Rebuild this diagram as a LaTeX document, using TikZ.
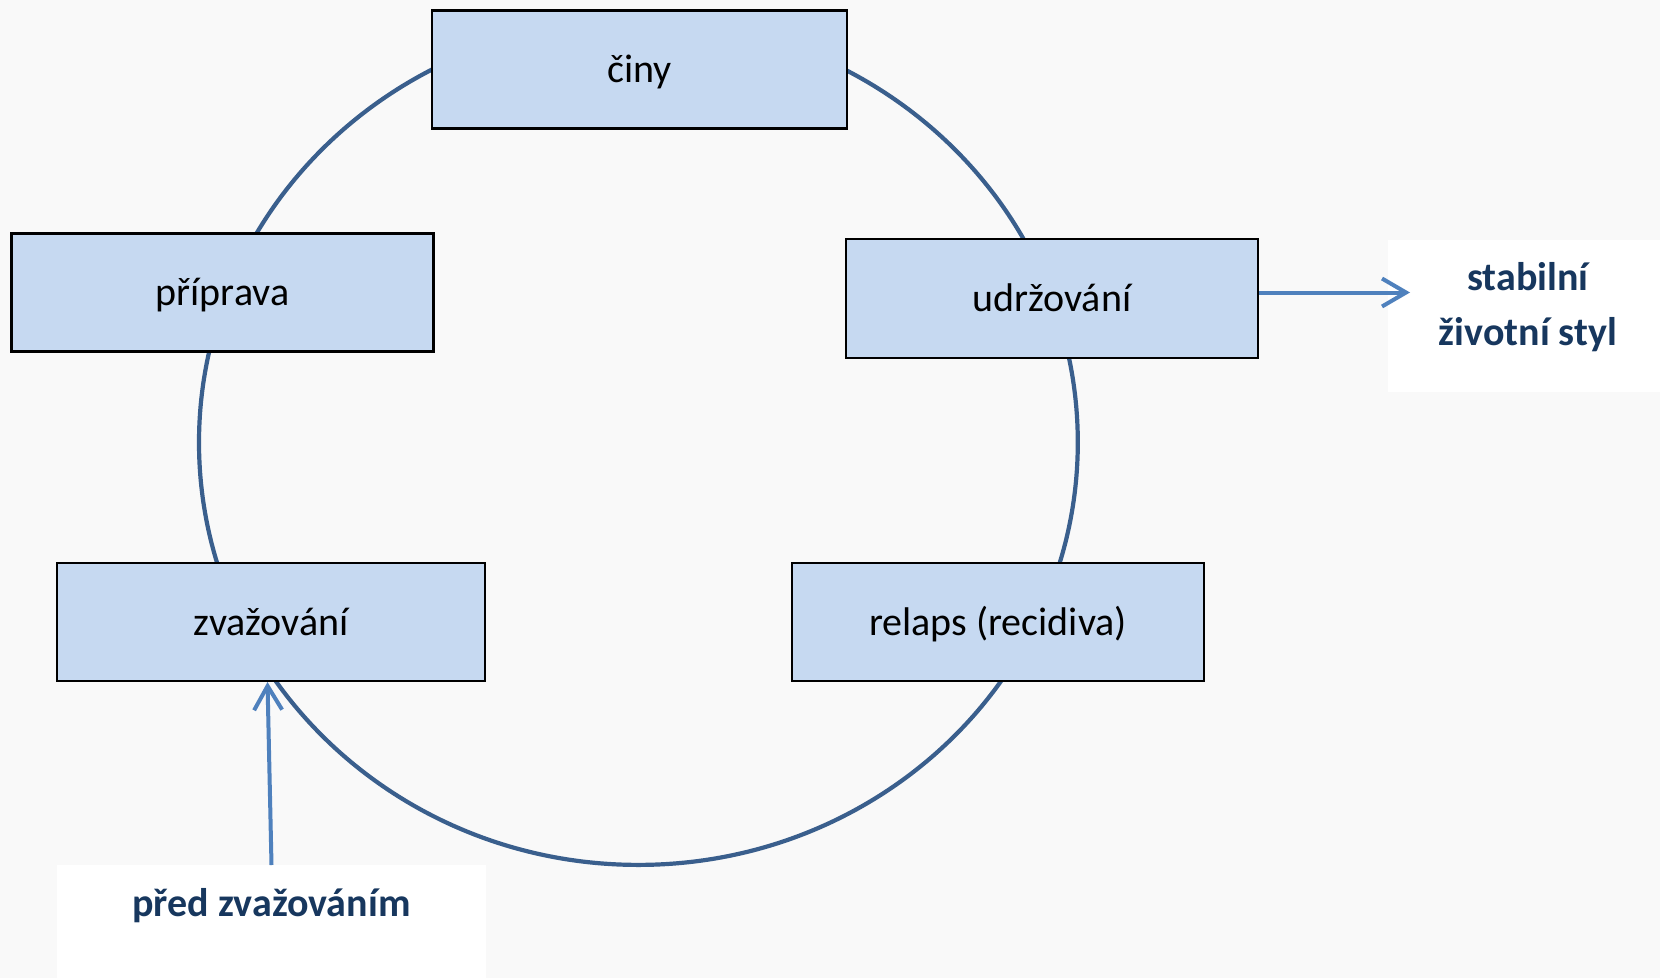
\documentclass[tikz,border=0pt]{standalone}
\usepackage{fontspec}
\setmainfont{Carlito}
\usetikzlibrary{arrows.meta}
\definecolor{boxfill}{HTML}{C6D9F1}
\definecolor{ringcol}{HTML}{3A5F8D}
\definecolor{arrcol}{HTML}{4F81BD}
\definecolor{labcol}{HTML}{17375E}
\definecolor{bgcol}{HTML}{F9F9F9}
\begin{document}
\begin{tikzpicture}[x=1pt,y=-1pt,
  stage/.style={draw=black,line width=2.2pt,fill=boxfill,inner sep=0pt,
     font=\fontsize{40}{48}\selectfont,text height=33pt,text depth=7pt},
  labbox/.style={fill=white,inner sep=0pt},
  labtext/.style={inner sep=0pt,text=labcol,anchor=base,
     font=\fontsize{40}{48}\selectfont\bfseries},
  flow/.style={draw=arrcol,line width=4pt,-{Straight Barb[length=24pt,width=28pt,line width=4pt]}}]
\fill[bgcol] (0,0) rectangle (1660,978);
\useasboundingbox (0,0) rectangle (1660,978);
% ring
\draw[ringcol,line width=4.2pt] (638.4,442.5) ellipse [x radius=439.4, y radius=422.4];
% stage boxes
\node[stage,minimum width=415pt,minimum height=118pt] (ciny) at (639.5,69.5) {činy};
\node[stage,minimum width=422pt,minimum height=118pt] (priprava) at (222.5,292.5) {příprava};
\node[stage,minimum width=412pt,minimum height=119pt] (udrz) at (1052,298.5) {udržování};
\node[stage,minimum width=428pt,minimum height=118pt] (zvaz) at (271,622) {zvažování};
\node[stage,minimum width=412pt,minimum height=118pt] (relaps) at (998,622) {relaps (recidiva)};
% outside labels
\node[labbox,minimum width=273pt,minimum height=152pt] (stab) at (1524,315.5) {};
\node[labtext] (stab1) at (1528,290) {stabilní};
\node[labtext] (stab2) at (1528,345) {životní styl};
\node[labbox,minimum width=429pt,minimum height=113pt] (pred) at (271.5,921.5) {};
\node[labtext] (predt) at (271.5,916) {před zvažováním};
% arrows
\coordinate (stabin) at (1410,292.5);
\coordinate (predout) at (271.5,865);
\coordinate (zvazin) at (267.5,682);
\draw[flow] (udrz.east |- stabin) -- (stabin);
\draw[flow] (predout) -- (zvazin);
\end{tikzpicture}
\end{document}
